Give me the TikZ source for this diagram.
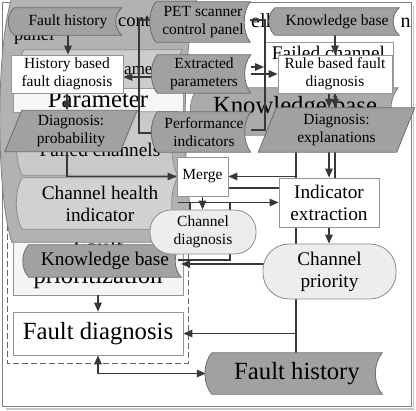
\documentclass[tikz,border=0pt]{standalone}
\usepackage{fontspec}
\setmainfont{Liberation Serif}
\usetikzlibrary{arrows.meta,shadows}
\pgfdeclarelayer{back}
\pgfdeclarelayer{lines}
\pgfdeclarelayer{shapes}
\pgfsetlayers{back,lines,shapes,main}

\newcommand\sfont{\fontsize{15.5}{18}\selectfont}
\newcommand\mfont{\fontsize{19.3}{22}\selectfont}
\newcommand\lfont{\fontsize{24.7}{28}\selectfont}

% stored-data outline: node, bulge, vertical control offset, style
\newcommand\sdshape[4]{%
  \path[#4] (#1.north west) -- (#1.north east)
    .. controls ([xshift=-#2pt,yshift=-#3pt]#1.north east) and ([xshift=-#2pt,yshift=#3pt]#1.south east) .. (#1.south east)
    -- (#1.south west)
    .. controls ([xshift=-#2pt,yshift=#3pt]#1.south west) and ([xshift=-#2pt,yshift=-#3pt]#1.north west) .. cycle;}
% parallelogram outline: node, half slant, style
\newcommand\parashape[3]{%
  \path[#3] ([xshift=#2pt]#1.north west) -- ([xshift=#2pt]#1.north east)
    -- ([xshift=-#2pt]#1.south east) -- ([xshift=-#2pt]#1.south west) -- cycle;}

\tikzset{
  boxw/.style={rectangle, fill=white, draw=black!42, line width=0.8pt, align=center, inner sep=1pt,
    drop shadow={shadow xshift=1.2pt, shadow yshift=-1.2pt, fill=black!35, opacity=0.5}},
  sdnode/.style={rectangle, align=center, inner sep=0pt},
  sdfill/.style={fill=black!37, draw=black!58, line width=0.8pt},
  stadium/.style={rectangle, rounded corners=#1, fill=black!7, draw=black!45, line width=0.8pt, align=center, inner sep=1pt},
  hid/.style={inner sep=0pt},
  conn/.style={draw=black!78, line width=1.3pt},
  arr/.style={conn, -{Triangle[length=9pt,width=7.5pt]}},
  arrb/.style={conn, {Triangle[length=9pt,width=7.5pt]}-{Triangle[length=9pt,width=7.5pt]}},
}

\begin{document}
\begin{tikzpicture}[x=1pt,y=-1pt]
\useasboundingbox (0,0) rectangle (416,411);

% ---------------- main nodes ----------------
\node[sdnode, minimum width=107pt, minimum height=27pt, font=\sfont] (fh1) at (68,21.5) {Fault history};
\node[sdnode, minimum width=94pt, minimum height=40pt, font=\sfont] (pet) at (203,22) {PET scanner\\control panel};
\node[sdnode, minimum width=124pt, minimum height=27pt, font=\sfont] (kb1) at (337,21.5) {Knowledge base};
\node[boxw, minimum width=112pt, minimum height=38pt, font=\sfont] (hb) at (67,74) {History based\\fault diagnosis};
\node[sdnode, minimum width=93pt, minimum height=38pt, font=\sfont] (ep) at (204,74) {Extracted\\parameters};
\node[boxw, minimum width=114pt, minimum height=38pt, font=\sfont] (rb) at (335,74) {Rule based fault\\diagnosis};
\node[sdnode, minimum width=115pt, minimum height=41pt, font=\sfont] (dp) at (71,131) {Diagnosis:\\probability};
\node[sdnode, minimum width=93pt, minimum height=40pt, font=\sfont] (pi) at (204,132) {Performance\\indicators};
\node[sdnode, minimum width=138pt, minimum height=44pt, font=\sfont] (de) at (336.5,130) {Diagnosis:\\explanations};
\node[boxw, minimum width=51pt, minimum height=39pt, font=\sfont] (mg) at (202.5,176.5) {Merge};
\node[boxw, minimum width=100pt, minimum height=49pt, font=\mfont] (ie) at (329,202.5) {Indicator\\extraction};
\node[stadium=21pt, minimum width=106pt, minimum height=44pt, font=\sfont] (cd) at (203,232) {Channel\\diagnosis};
\node[stadium=26pt, minimum width=133pt, minimum height=55pt, font=\mfont] (cp) at (329.5,271.5) {Channel\\priority};
\node[sdnode, minimum width=152pt, minimum height=32pt, font=\mfont] (kb2) at (105,261) {Knowledge base};
\node[boxw, minimum width=170pt, minimum height=43pt, font=\lfont] (fd) at (98,333.5) {Fault diagnosis};
\node[sdnode, minimum width=170pt, minimum height=41pt, font=\lfont] (fh2) at (297,373.5) {Fault history};

% ---------------- hidden background layer ----------------
\begin{pgfonlayer}{back}
  \fill[white] (0,0) rectangle (416,411);
  \draw[black!22, line width=1.6pt] (6,409) -- (413.5,409) -- (413.5,6);
  \draw[black!50, line width=0.8pt, fill=white] (2,2) rectangle (411,406);
  \node[hid, anchor=base west, font=\fontsize{20}{22}\selectfont] (ttla) at (251,28) {ell};
  \node[hid, anchor=base west, font=\fontsize{20}{22}\selectfont] (ttlb) at (400.5,28) {n};
  \node[rectangle, fill=white, draw=black!40, line width=0.8pt, minimum width=129pt, minimum height=50pt] (fcb) at (328.5,67) {};
  \node[hid, anchor=base, font=\mfont] (fct) at (328.5,60) {Failed channel};
  \node[sdnode, minimum width=200pt, minimum height=47pt] (kbh) at (298,111.5) {};
  \sdshape{kbh}{10}{12}{fill=black!33, draw=black!50, line width=0.8pt}
  \node[hid, anchor=base, font=\lfont] (kbht) at (295,114) {Knowledge base};
  \draw[black!60, line width=0.9pt, dash pattern=on 6pt off 3pt] (7,225) rectangle (188,363);
  \node[rectangle, fill=black!4, draw=black!42, line width=0.8pt, minimum width=170pt, minimum height=63pt, align=center, font=\lfont] (fp) at (98,263.5) {Fault\\prioritization};
  \node[sdnode, minimum width=185pt, minimum height=244pt] (s0) at (104.5,120) {};
  \sdshape{s0}{16}{50}{fill=black!30, draw=black!50, line width=0.8pt}
  \node[hid, anchor=base west, font=\fontsize{18.5}{20}\selectfont] (s0a) at (118,27) {cont};
  \node[hid, anchor=base west, font=\fontsize{18.5}{20}\selectfont] (s0b) at (14,41) {panel};
  \node[sdnode, minimum width=158pt, minimum height=60pt] (s1) at (103,80) {};
  \sdshape{s1}{8}{12}{fill=black!20, draw=black!45, line width=0.8pt}
  \node[hid, anchor=base, font=\fontsize{17}{20}\selectfont] (s1t) at (136,75) {Parameter};
  \node[rectangle, fill=black!3, draw=black!40, line width=0.8pt, minimum width=170pt, minimum height=24pt] (s1w) at (98,100) {};
  \node[hid, anchor=base, font=\lfont] (s1wt) at (98,108) {Parameter};
  \node[sdnode, minimum width=155pt, minimum height=63pt] (s2) at (100,143.5) {};
  \sdshape{s2}{8}{12}{fill=black!21, draw=black!45, line width=0.8pt}
  \node[hid, anchor=base, font=\mfont] (s2t) at (100,157) {Failed channels};
  \node[sdnode, minimum width=155pt, minimum height=51pt] (chi) at (100,203.5) {};
  \sdshape{chi}{8}{12}{fill=black!18, draw=black!45, line width=0.8pt}
  \node[hid, align=center, font=\mfont] (chit) at (chi) {Channel health\\indicator};
\end{pgfonlayer}

% ---------------- shapes layer ----------------
\begin{pgfonlayer}{shapes}
  \sdshape{fh1}{8}{7}{sdfill}
  \sdshape{pet}{8}{10}{sdfill}
  \sdshape{kb1}{8}{7}{sdfill}
  \sdshape{ep}{8}{10}{sdfill}
  \sdshape{pi}{8}{10}{sdfill}
  \sdshape{kb2}{8}{8}{sdfill}
  \sdshape{fh2}{9}{10}{sdfill}
  \parashape{dp}{8.5}{sdfill}
  \parashape{de}{9}{sdfill}
\end{pgfonlayer}

% ---------------- connectors ----------------
\coordinate (vx) at (296,0);
\coordinate (x329) at (329,0);
\coordinate (x335) at (335,0);
\coordinate (r1) at (265,20);
\coordinate (r2) at (265,130);
\coordinate (l1) at (139,20);
\coordinate (l2) at (139,133);
\coordinate (e77) at (0,77);
\coordinate (a67) at (264,67);
\coordinate (y188) at (0,188);
\coordinate (y264) at (0,264);
\coordinate (c1) at (230,203);
\coordinate (c2) at (230,260);
\coordinate (c3) at (178,260);
\coordinate (c4) at (190,203);

\begin{pgfonlayer}{lines}
  \draw[conn] (pet.east |- r1) -- (r1) -- (r2) -- (pi.east |- r2);
  \draw[conn] (pet.west |- l1) -- (l1) -- (l2) -- (pi.west |- l2);
  \draw[arr] (fh1.south) -- (fh1.south |- hb.north);
  \draw[arr] (hb.south) -- (hb.south |- dp.north);
  \draw[arr] (ep.west |- e77) -- (hb.east |- e77);
  \draw[arr] (ep.east |- a67) -- (a67);
  \draw[arr] (ep.east |- rb.west) -- (rb.west);
  \draw[arr] (rb.north |- kb1.south) -- (rb.north);
  \draw[arr] (rb.south -| x329) -- (de.north -| x329);
  \draw[arr] (rb.south -| x335) -- (de.north -| x335);
  \draw[conn] (de.south -| x335) -- (ie.north -| x335);
  \draw[arr] (de.south -| x329) -- (ie.north -| x329);
  \draw[conn] (de.south -| vx) -- (fh2.north -| vx);
  \draw[arr] (mg.east -| vx) -- (mg.east);
  \draw[conn] (mg.east |- y188) -- (ie.west |- y188);
  \draw[arr] (chi.east |- ie.west) -- (ie.west);
  \draw[arr] (hb.south |- dp.south) |- (mg.west);
  \draw[arr] (mg.south) -- (mg.south |- cd.north);
  \draw[conn] (c1) -- (c2) -- (c3);
  \draw[conn] (c4) -- (c4 |- cd.north);
  \draw[arr] (ie.south) -- (ie.south |- cp.north);
  \draw[arr] (vx |- y264) -- (kb2.east |- y264);
  \draw[arr] (vx |- fd.east) -- (fd.east);
  \draw[arrb] (fd.south) |- ([xshift=-6pt]fh2.west);
  \draw[arr] (fp.south) -- (fd.north);
\end{pgfonlayer}
\end{tikzpicture}
\end{document}
